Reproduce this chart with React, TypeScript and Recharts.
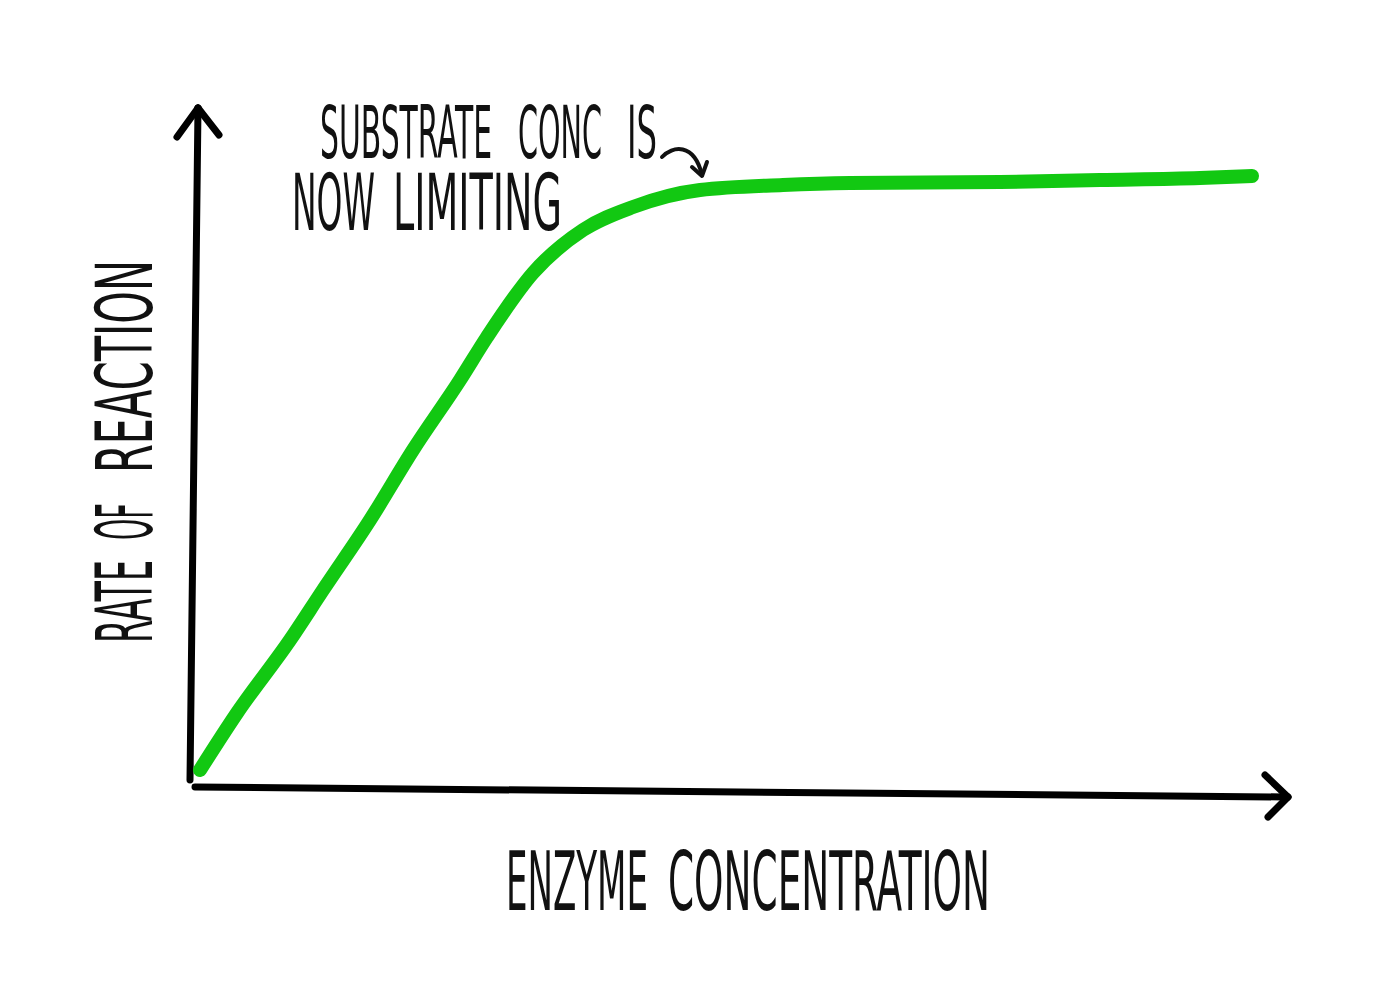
import React from "react";
import { LineChart, Line, XAxis, YAxis, ReferenceLine, Customized } from "recharts";

// enzyme concentration (arbitrary units) vs rate of reaction (arbitrary units)
const enzymeConc = [10, 47, 100, 133, 180, 223, 270, 297, 343, 393, 443, 510, 593, 660, 810, 910, 1010, 1062];
const reactionRate = [20, 77, 150, 200, 270, 340, 410, 453, 517, 560, 583, 600, 605, 607, 608, 610, 612, 614];

const data = enzymeConc.map((x, i) => ({ x, rate: reactionRate[i] }));

// hand drawn axes with arrow heads, in data units
const yAxisLine = [{ x: 0, y: 10 }, { x: 8, y: 682 }];
const yArrowL = [{ x: -13, y: 653 }, { x: 8, y: 682 }];
const yArrowR = [{ x: 29, y: 655 }, { x: 8, y: 682 }];
const xAxisLine = [{ x: 5, y: 3 }, { x: 1095, y: -7 }];
const xArrowT = [{ x: 1075, y: 15 }, { x: 1098, y: -7 }];
const xArrowB = [{ x: 1078, y: -27 }, { x: 1098, y: -7 }];

const FONT = "'Liberation Sans Narrow', 'DejaVu Sans Condensed', sans-serif";

// each word: text, start, end (along the reading direction), baseline, font size
const noteWords: [string, number, number, number, number][] = [
  ["SUBSTRATE", 320, 492, 158, 73],
  ["CONC", 518, 602, 158, 73],
  ["IS", 627, 657, 158, 73],
  ["NOW", 292, 375, 230, 78],
  ["LIMITING", 393, 562, 230, 78],
];
const xLabelWords: [string, number, number, number, number][] = [
  ["ENZYME", 506, 648, 910, 82],
  ["CONCENTRATION", 668, 990, 910, 82],
];
const yLabelWords: [string, number, number, number, number][] = [
  ["RATE", 643, 560, 152, 78],
  ["OF", 540, 503, 152, 78],
  ["REACTION", 473, 260, 152, 78],
];

const Annotations = () => (
  <g fill="#111" fontFamily={FONT}>
    {[...noteWords, ...xLabelWords].map(([w, a, b, base, fs]) => (
      <text key={w} x={a} y={base} fontSize={fs} textLength={b - a} lengthAdjust="spacingAndGlyphs">
        {w}
      </text>
    ))}
    {yLabelWords.map(([w, a, b, base, fs]) => (
      <text
        key={w}
        transform={`translate(${base},${a}) rotate(-90)`}
        fontSize={fs}
        textLength={a - b}
        lengthAdjust="spacingAndGlyphs"
      >
        {w}
      </text>
    ))}
    <g fill="none" stroke="#111" strokeWidth={4} strokeLinecap="round" strokeLinejoin="round">
      <path d="M662,157 C672,146 694,142 702,175" />
      <path d="M692,167 L702,176 L707,162" />
    </g>
  </g>
);

const axisStyle = { stroke: "#000", strokeWidth: 7, strokeLinecap: "round" as const };

export default function App() {
  return (
    <div style={{ position: "absolute", left: 0, top: 0, background: "#fff" }}>
      <LineChart
        width={1385}
        height={1000}
        data={data}
        margin={{ top: 90, right: 75, bottom: 150, left: 170 }}
      >
        <XAxis type="number" dataKey="x" domain={[-20, 1120]} hide />
        <YAxis type="number" domain={[-60, 700]} hide />
        <ReferenceLine segment={yAxisLine} {...axisStyle} />
        <ReferenceLine segment={yArrowL} {...axisStyle} />
        <ReferenceLine segment={yArrowR} {...axisStyle} />
        <ReferenceLine segment={xAxisLine} {...axisStyle} />
        <ReferenceLine segment={xArrowT} {...axisStyle} />
        <ReferenceLine segment={xArrowB} {...axisStyle} />
        <Line
          type="monotone"
          dataKey="rate"
          stroke="#12c812"
          strokeWidth={14}
          strokeLinecap="round"
          dot={false}
          activeDot={false}
          isAnimationActive={false}
        />
        <Customized component={Annotations} />
      </LineChart>
    </div>
  );
}
